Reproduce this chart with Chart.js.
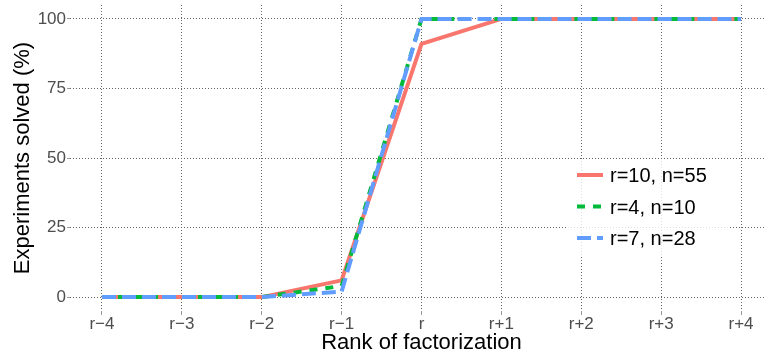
<!DOCTYPE html>
<html><head><meta charset="utf-8">
<script src="https://cdn.jsdelivr.net/npm/chart.js@4"></script>
<style>
html,body{margin:0;padding:0;overflow:hidden;background:#fff;width:765px;height:354px}
#wrap{position:absolute;left:0;top:0;width:773px;height:354px}
</style>
</head><body>
<div id="wrap"><canvas id="c" width="773" height="354"></canvas></div>
<script>
const categories = ["r\u22124","r\u22123","r\u22122","r\u22121","r","r+1","r+2","r+3","r+4"];
const rankOffsets = [-4,-3,-2,-1,0,1,2,3,4];
const seriesNames = ["r=10, n=55","r=4, n=10","r=7, n=28"];
const seriesR10 = [0,0,0,6,91,100,100,100,100];
const seriesR4  = [0,0,0,4,100,100,100,100,100];
const seriesR7  = [0,0,0,2,100,100,100,100,100];
const yTicks = [0,25,50,75,100];

const FONT = '"Liberation Sans", Arial, Helvetica, sans-serif';
Chart.defaults.font.family = FONT;

function pts(vals){ return rankOffsets.map((x,i)=>({x:x, y:vals[i]})); }

const legendInside = {
  id:'legendInside',
  afterDatasetsDraw(chart){
    const ctx = chart.ctx;
    ctx.save();
    ctx.fillStyle = 'rgba(255,255,255,0.8)';
    ctx.fillRect(566,159,164,97);
    chart.data.datasets.forEach((ds,i)=>{
      const y = 175 + i*31.5;
      ctx.strokeStyle = ds.borderColor;
      ctx.lineWidth = ds.borderWidth;
      ctx.lineCap = 'butt';
      ctx.setLineDash(ds.borderDash || []);
      ctx.beginPath(); ctx.moveTo(577,y); ctx.lineTo(603,y); ctx.stroke();
      ctx.setLineDash([]);
      ctx.fillStyle = '#000';
      ctx.font = '20px ' + FONT;
      ctx.textAlign = 'left';
      ctx.textBaseline = 'middle';
      ctx.fillText(ds.label, 610, y + 1.5);
    });
    ctx.restore();
  }
};

const common = {pointRadius:0, pointHoverRadius:0, borderWidth:4, tension:0, fill:false, borderCapStyle:'butt', borderJoinStyle:'round'};

new Chart(document.getElementById('c'), {
  type:'line',
  data:{
    datasets:[
      Object.assign({label:seriesNames[0], data:pts(seriesR10), borderColor:'#F8766D', backgroundColor:'#F8766D', order:3}, common),
      Object.assign({label:seriesNames[1], data:pts(seriesR4), borderColor:'#00BA38', backgroundColor:'#00BA38', borderDash:[8,8], order:2}, common),
      Object.assign({label:seriesNames[2], data:pts(seriesR7), borderColor:'#619CFF', backgroundColor:'#619CFF', borderDash:[14,6], order:1}, common)
    ]
  },
  options:{
    responsive:false, animation:false, devicePixelRatio:1,
    layout:{padding:{top:5,left:0,right:0,bottom:0}},
    plugins:{legend:{display:false}, tooltip:{enabled:false}},
    scales:{
      x:{
        type:'linear', min:-4.4, max:4.4,
        afterBuildTicks:(s)=>{ s.ticks = rankOffsets.map(v=>({value:v})); },
        afterFit:(s)=>{ s.height = 43; s.paddingLeft = 0; s.paddingRight = 0; },
        ticks:{ autoSkip:false, maxRotation:0, padding:-1, color:'#4d4d4d', font:{size:17},
          callback:(v)=>categories[rankOffsets.indexOf(v)] },
        grid:{ color:'#666', lineWidth:1, drawTicks:true, tickLength:4, tickColor:'#999', tickWidth:1, tickBorderDash:[] },
        border:{ display:false, dash:[1,2] },
        title:{ display:true, text:'Rank of factorization', color:'#000', font:{size:22, lineHeight:1}, padding:{top:0,bottom:0} }
      },
      y:{
        type:'linear', min:-5, max:105,
        afterBuildTicks:(s)=>{ s.ticks = yTicks.map(v=>({value:v})); },
        afterFit:(s)=>{ s.width = 70; s.paddingTop = 0; s.paddingBottom = 0; },
        ticks:{ padding:1, color:'#4d4d4d', font:{size:17}, callback:(v)=>String(v) },
        grid:{ color:'#666', lineWidth:1, drawTicks:true, tickLength:3, tickColor:'#999', tickWidth:1, tickBorderDash:[] },
        border:{ display:false, dash:[1,2] },
        title:{ display:true, text:'Experiments solved (%)', color:'#000', font:{size:22, lineHeight:1}, padding:{top:12,bottom:0} }
      }
    }
  },
  plugins:[legendInside]
});
</script>
</body></html>
